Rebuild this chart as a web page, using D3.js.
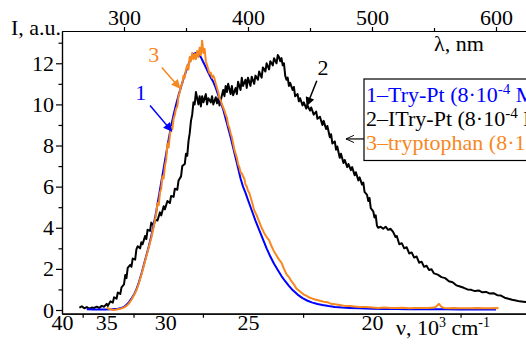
<!DOCTYPE html>
<html>
<head>
<meta charset="utf-8">
<script src="https://cdn.jsdelivr.net/npm/d3@7/dist/d3.min.js"></script>
<style>
  body { margin: 0; background: #fff; }
  svg text { font-family: "Liberation Serif", "Times New Roman", Times, serif; }
</style>
</head>
<body>
<div id="chart"></div>
<script>
// tick values
const nuMajor = [40, 35, 30, 25, 20];          // 10^3 cm^-1
const nuMinor = [37.5, 32.5, 27.5, 22.5, 17.5];
const wlMajor = [300, 400, 500, 600];          // nm
const wlMinor = [350, 450, 550];
const yMajor = [0, 2, 4, 6, 8, 10, 12];
const yMinor = [1, 3, 5, 7, 9, 11, 13];

// series: [wavelength nm, intensity a.u.]
const tryPt = [[270,0.04],[275,0.03],[280,0.03],[285,0.03],[290,0.04],[295,0.06],[298,0.1],[300,0.15],[302,0.25],[304,0.38],[306,0.55],[308,0.75],[310,1.0],[312,1.35],[314,1.75],[316,2.2],[318,2.65],[320,3.1],[322,3.6],[324,4.15],[326,4.8],[328,5.5],[330,6.2],[332,6.9],[334,7.6],[336,8.3],[338,8.95],[340,9.5],[342,10.0],[344,10.45],[346,10.85],[348,11.25],[350,11.6],[352,11.95],[354,12.25],[356,12.45],[358,12.5],[360,12.45],[362,12.3],[364,12.05],[366,11.8],[368,11.55],[370,11.3],[372,11.1],[374,10.8],[376,10.45],[378,10.1],[380,9.75],[382,9.3],[384,8.85],[386,8.4],[388,7.9],[390,7.4],[392,6.9],[394,6.4],[396,6.0],[398,5.7],[400,5.35],[403,4.85],[406,4.35],[409,3.9],[412,3.45],[415,3.0],[418,2.6],[421,2.25],[424,1.95],[427,1.65],[430,1.4],[433,1.17],[436,0.97],[440,0.75],[444,0.58],[448,0.45],[452,0.36],[456,0.29],[460,0.24],[465,0.19],[470,0.15],[476,0.12],[482,0.1],[490,0.08],[500,0.06],[510,0.05],[520,0.05],[530,0.04],[540,0.04],[550,0.04],[560,0.04],[570,0.03],[580,0.03],[590,0.03],[600,0.03]];

const iTryPt = [[264,0.12],[266,0.18],[268,0.08],[270,0.14],[272,0.06],[274,0.12],[276,0.1],[278,0.16],[280,0.1],[282,0.2],[284,0.16],[286,0.3],[287,0.2],[289,0.42],[291,0.36],[292,0.62],[294,0.55],[295,0.85],[297,0.78],[298,1.1],[300,1.25],[301,1.7],[302,1.55],[303,2.05],[305,2.2],[306,2.1],[307,2.5],[309,2.45],[310,2.95],[311,3.1],[313,3.0],[314,3.3],[315,3.2],[317,3.6],[318,3.45],[319,3.9],[321,3.85],[322,4.25],[324,4.1],[325,4.4],[327,4.35],[329,4.75],[330,4.6],[332,5.05],[333,4.9],[335,5.3],[337,5.2],[338,5.55],[340,5.5],[341,5.9],[343,5.85],[344,6.3],[346,6.5],[347,7.0],[349,7.1],[350,7.6],[351,7.5],[352,8.2],[353,8.6],[354,9.2],[355,9.5],[356,10.1],[357,10.0],[358,10.6],[359,10.3],[360,10.0],[361,10.4],[362,9.9],[363,10.4],[364,10.1],[366,10.5],[367,10.0],[368,10.3],[370,10.1],[371,10.4],[372,10.0],[374,10.35],[375,10.05],[376,10.3],[377,9.95],[378,10.2],[380,10.7],[381,10.4],[382,10.9],[383,10.6],[384,11.0],[386,10.5],[387,10.9],[388,10.45],[390,10.8],[391,10.5],[392,11.1],[394,10.7],[395,11.3],[396,10.9],[398,11.2],[399,10.8],[400,11.3],[402,10.9],[403,11.35],[405,11.0],[406,11.4],[408,11.2],[409,11.6],[411,11.3],[412,11.8],[414,11.6],[415,12.0],[417,11.7],[418,12.1],[420,11.9],[421,12.25],[423,12.0],[424,12.4],[425,12.3],[426,12.1],[427,12.25],[428,11.9],[429,12.0],[430,11.4],[431,11.2],[432,11.3],[433,10.9],[434,11.05],[436,10.7],[437,10.85],[438,10.4],[440,10.5],[441,10.15],[442,10.3],[444,9.95],[445,10.1],[447,9.8],[448,9.95],[450,9.7],[451,9.85],[453,9.5],[455,9.65],[456,9.3],[458,9.4],[460,9.0],[461,9.2],[463,8.8],[464,8.95],[466,8.4],[467,8.55],[468,8.1],[470,8.2],[471,7.8],[472,7.95],[474,7.4],[475,7.6],[477,7.15],[478,7.3],[480,6.95],[481,7.1],[483,6.8],[484,6.95],[486,6.55],[487,6.7],[489,6.3],[490,6.45],[492,6.1],[493,6.2],[494,5.75],[496,5.6],[497,5.3],[498,5.45],[499,4.95],[501,4.8],[502,4.5],[503,4.6],[504,4.1],[505,4.0],[507,4.05],[509,3.95],[511,4.05],[513,3.9],[515,3.95],[517,3.8],[519,3.55],[520,3.6],[522,3.2],[524,3.25],[526,3.0],[528,3.05],[530,2.75],[532,2.8],[534,2.55],[536,2.6],[538,2.3],[540,2.35],[542,2.1],[544,2.15],[546,1.95],[548,1.98],[550,1.78],[553,1.72],[556,1.6],[559,1.55],[562,1.4],[565,1.35],[568,1.2],[571,1.14],[574,1.08],[577,1.0],[580,0.98],[583,0.92],[586,0.95],[589,0.86],[592,0.88],[595,0.8],[598,0.82],[601,0.72],[604,0.7],[607,0.6],[610,0.55],[613,0.5],[616,0.46],[619,0.42],[622,0.4],[625,0.38],[628,0.4],[632,0.36]];

const tryptophan = [[286,0.12],[288,0.05],[290,0.02],[292,0.0],[294,0.02],[296,0.05],[298,0.08],[300,0.12],[302,0.2],[304,0.32],[306,0.5],[308,0.72],[310,0.95],[312,1.3],[314,1.7],[316,2.15],[318,2.6],[320,3.05],[322,3.5],[324,4.05],[326,4.7],[327,5.2],[328,5.1],[329,5.7],[330,5.9],[331,6.5],[332,6.4],[333,7.0],[334,7.3],[335,8.1],[336,7.9],[337,8.5],[338,8.9],[339,8.8],[340,9.3],[341,9.5],[342,9.8],[343,9.9],[344,10.4],[345,10.6],[346,10.9],[347,11.0],[348,11.4],[349,11.3],[350,11.7],[351,11.9],[352,11.7],[353,12.3],[354,12.1],[355,12.5],[356,12.2],[357,12.45],[358,12.2],[359,12.6],[360,12.3],[361,12.75],[362,12.4],[363,13.1],[364,12.5],[365,12.7],[366,12.1],[367,11.9],[368,11.7],[369,11.5],[370,11.55],[371,11.3],[372,11.4],[373,11.25],[374,11.0],[375,10.8],[376,10.6],[377,10.3],[378,10.2],[379,10.0],[380,9.85],[381,9.7],[382,9.5],[383,9.35],[384,9.0],[385,8.85],[386,8.6],[387,8.4],[388,8.1],[389,7.8],[390,7.6],[391,7.4],[392,7.1],[393,6.95],[394,6.7],[395,6.65],[396,6.5],[397,6.4],[398,6.1],[399,6.0],[400,5.8],[401,5.7],[403,5.3],[405,4.85],[407,4.6],[409,4.3],[411,4.0],[413,3.75],[415,3.55],[417,3.4],[419,3.1],[421,2.85],[423,2.65],[425,2.45],[427,2.3],[429,2.0],[431,1.75],[433,1.6],[435,1.4],[437,1.25],[439,1.05],[441,0.95],[443,0.85],[445,0.75],[447,0.7],[449,0.62],[452,0.55],[455,0.5],[458,0.45],[461,0.4],[464,0.38],[467,0.3],[470,0.28],[474,0.24],[478,0.2],[482,0.2],[486,0.17],[490,0.15],[495,0.14],[500,0.12],[505,0.1],[510,0.12],[515,0.1],[520,0.1],[525,0.11],[530,0.09],[535,0.1],[540,0.1],[545,0.1],[550,0.12],[552,0.18],[554,0.3],[556,0.15],[558,0.1],[562,0.08],[566,0.1],[570,0.08],[575,0.09],[580,0.08],[585,0.1],[590,0.08],[595,0.09],[600,0.1],[602,0.08]];

const legendLabels = [
  { num: '1', name: 'Try-Pt', color: '#0000ff' },
  { num: '2', name: 'ITry-Pt', color: '#000000' },
  { num: '3', name: 'tryptophan', color: '#f7881f' }
];

// curve callouts in data units: label point, arrow start, arrow tip
const callouts = [
  { text: '1', color: '#0000ff', at: [313.5, 10.2], from: [321, 9.95], to: [338.5, 8.7] },
  { text: '3', color: '#f7881f', at: [324, 12.05], from: [330.5, 11.8], to: [345, 10.8] },
  { text: '2', color: '#000000', at: [460.5, 11.45], from: [455.5, 11.15], to: [447.5, 9.95] }
];

const W = 526, H = 345;
const fs = 22;
const serif = '"Liberation Serif", "Times New Roman", Times, serif';

const svg = d3.select('#chart').append('svg')
  .attr('width', W)
  .attr('height', H)
  .attr('font-family', serif);

svg.append('rect').attr('width', W).attr('height', H).attr('fill', '#fff');

const x = d3.scaleLinear().domain([250, 640]).range([62, 545.6]);
const y = d3.scaleLinear().domain([-0.18, 13.57]).range([313.7, 31]);

const defs = svg.append('defs');
defs.append('clipPath').attr('id', 'plot')
  .append('rect')
  .attr('x', x(250)).attr('y', y(13.57))
  .attr('width', x(640) - x(250)).attr('height', y(-0.18) - y(13.57));

['#0000ff', '#000000', '#f7881f'].forEach((c, i) => {
  defs.append('marker')
    .attr('id', 'head' + i)
    .attr('viewBox', '0 0 10 10')
    .attr('refX', 9).attr('refY', 5)
    .attr('markerUnits', 'userSpaceOnUse')
    .attr('markerWidth', 11).attr('markerHeight', 9)
    .attr('orient', 'auto')
    .append('path')
    .attr('d', 'M0,0L10,5L0,10z')
    .attr('fill', c);
});
defs.append('marker')
  .attr('id', 'openHead')
  .attr('viewBox', '0 0 10 10')
  .attr('refX', 10).attr('refY', 5)
  .attr('markerUnits', 'userSpaceOnUse')
  .attr('markerWidth', 9).attr('markerHeight', 8)
  .attr('orient', 'auto')
  .append('path')
  .attr('d', 'M0,0.5L10,5L0,9.5')
  .attr('fill', 'none')
  .attr('stroke', '#000')
  .attr('stroke-width', 1.2);

// curves
const line = d3.line()
  .x(d => x(d[0]))
  .y(d => y(d[1]));

const curves = svg.append('g').attr('clip-path', 'url(#plot)');
[[iTryPt, '#000000'], [tryPt, '#0000ff'], [tryptophan, '#f7881f']].forEach(([data, color]) => {
  curves.append('path')
    .datum(data)
    .attr('fill', 'none')
    .attr('stroke', color)
    .attr('stroke-width', 2)
    .attr('stroke-linejoin', 'round')
    .attr('d', line);
});

// axes
function styleAxis(g) {
  g.attr('font-family', serif).attr('font-size', fs);
  g.selectAll('path, line').attr('stroke', '#000').attr('stroke-width', 1.2);
  g.selectAll('text').attr('fill', '#000');
}

const wlOf = n => 1e4 / n;

svg.append('g')
  .attr('transform', `translate(0,${y(-0.18)})`)
  .call(d3.axisBottom(x).tickValues(nuMinor.map(wlOf)).tickSize(4).tickSizeOuter(0).tickFormat(''))
  .call(styleAxis);

svg.append('g')
  .attr('transform', `translate(0,${y(-0.18)})`)
  .call(d3.axisBottom(x).tickValues(nuMajor.map(wlOf)).tickSize(0).tickSizeOuter(0)
    .tickFormat((d, i) => nuMajor[i]))
  .call(styleAxis)
  .call(g => g.selectAll('text').attr('y', 1));

svg.append('g')
  .attr('transform', `translate(0,${y(13.57)})`)
  .call(d3.axisTop(x).tickValues(wlMinor).tickSize(3).tickSizeOuter(0).tickFormat(''))
  .call(styleAxis);

svg.append('g')
  .attr('transform', `translate(0,${y(13.57)})`)
  .call(d3.axisTop(x).tickValues(wlMajor).tickSize(4).tickPadding(2).tickSizeOuter(0))
  .call(styleAxis);

svg.append('g')
  .attr('transform', `translate(${x(250)},0)`)
  .call(d3.axisLeft(y).tickValues(yMinor).tickSize(3.5).tickSizeOuter(0).tickFormat(''))
  .call(styleAxis);

svg.append('g')
  .attr('transform', `translate(${x(250)},0)`)
  .call(d3.axisLeft(y).tickValues(yMajor).tickSize(6).tickPadding(2).tickSizeOuter(0))
  .call(styleAxis);

// axis titles
svg.append('text')
  .attr('x', x(250) - 1).attr('y', 35)
  .attr('text-anchor', 'end')
  .attr('font-size', fs)
  .text('I, a.u.');

svg.append('text')
  .attr('x', 434).attr('y', 51)
  .attr('font-size', fs)
  .text('λ, nm');

const nuLabel = svg.append('text')
  .attr('x', 396).attr('y', 335)
  .attr('font-size', fs);
nuLabel.append('tspan').text('ν, 10');
nuLabel.append('tspan').attr('font-size', 14).attr('dy', -8).text('3');
nuLabel.append('tspan').attr('dy', 8).text(' cm');
nuLabel.append('tspan').attr('font-size', 14).attr('dy', -8).text('-1');

// legend box (runs off the right edge, as in the source figure)
const lg = svg.append('g').attr('transform', 'translate(364,79)');
lg.append('rect')
  .attr('width', 230).attr('height', 81.5)
  .attr('fill', '#fff')
  .attr('stroke', '#000')
  .attr('stroke-width', 1.2);
legendLabels.forEach((d, i) => {
  const t = lg.append('text')
    .attr('x', 2).attr('y', 22.5 + i * 24.3)
    .attr('font-size', fs)
    .attr('fill', d.color);
  t.append('tspan').text(`${d.num}–${d.name} (8·10`);
  t.append('tspan').attr('font-size', 15).attr('dy', -8).text('-4');
  t.append('tspan').attr('dy', 8).text(' M)');
});

// arrow from legend to curve 2
svg.append('line')
  .attr('x1', 364).attr('y1', y(8.32))
  .attr('x2', x(479)).attr('y2', y(8.32))
  .attr('stroke', '#000')
  .attr('stroke-width', 1.2)
  .attr('marker-end', 'url(#openHead)');

// callouts
callouts.forEach(c => {
  const idx = c.color === '#0000ff' ? 0 : c.color === '#000000' ? 1 : 2;
  svg.append('line')
    .attr('x1', x(c.from[0])).attr('y1', y(c.from[1]))
    .attr('x2', x(c.to[0])).attr('y2', y(c.to[1]))
    .attr('stroke', c.color)
    .attr('stroke-width', 1.5)
    .attr('marker-end', `url(#head${idx})`);
  svg.append('text')
    .attr('x', x(c.at[0])).attr('y', y(c.at[1]))
    .attr('text-anchor', 'middle')
    .attr('font-size', fs)
    .attr('fill', c.color)
    .text(c.text);
});
</script>
</body>
</html>
